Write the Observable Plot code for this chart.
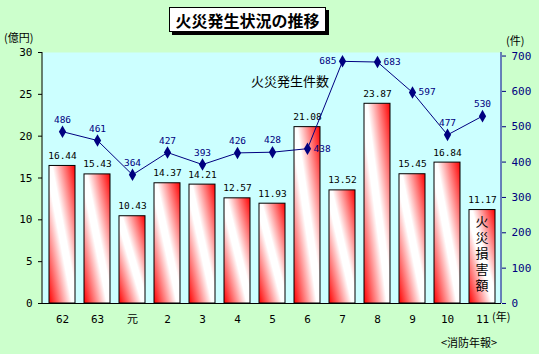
<!DOCTYPE html>
<html><head><meta charset="utf-8">
<script src="https://cdn.jsdelivr.net/npm/d3@7"></script>
<script src="https://cdn.jsdelivr.net/npm/@observablehq/plot@0.6"></script>
<style>
html,body{margin:0;padding:0;background:#ccffcc;}
#c{position:relative;width:539px;height:354px;}
</style></head><body><div id="c"></div>
<script>
// ---- data ----
const years = ["62","63","元","2","3","4","5","6","7","8","9","10","11"];
const damage = [16.44,15.43,10.43,14.37,14.21,12.57,11.93,21.08,13.52,23.87,15.45,16.84,11.17];
const fires = [486,461,364,427,393,426,428,438,685,683,597,477,530];
const leftTicks = [0,5,10,15,20,25,30];
const rightTicks = [0,100,200,300,400,500,600,700];
const legendLabel = "火災損害額";

// ---- build ----
const data = years.map((yr,i)=>({year: yr, damage: damage[i], fires: fires[i], i}));
const rightMax = 710;
const k = 30 / rightMax;
const NUM = "'DejaVu Sans Mono', 'Noto Sans CJK JP', monospace";
const JP = "'Noto Sans CJK JP', sans-serif";
const NAVY = "#000080";
const labelSide = {"438":"right","685":"left","683":"right","597":"right"};
const side = d => labelSide[String(d.fires)] || "top";

const defs = () => {
  const g = d3.create("svg:defs");
  const lg = g.append("linearGradient").attr("id","barGrad")
    .attr("x1",0).attr("y1",1).attr("x2",1).attr("y2",0);
  lg.append("stop").attr("offset",0).attr("stop-color","#ff0000");
  lg.append("stop").attr("offset",0.44).attr("stop-color","#ffffff");
  lg.append("stop").attr("offset",0.56).attr("stop-color","#ffffff");
  lg.append("stop").attr("offset",1).attr("stop-color","#ff0000");
  return g.node();
};

const plot = Plot.plot({
  width: 539, height: 354,
  marginTop: 52, marginBottom: 51, marginLeft: 42, marginRight: 38,
  style: {background: "transparent", overflow: "visible"},
  x: {type: "band", domain: years, paddingInner: 0.26, paddingOuter: 0.13, axis: null},
  y: {domain: [0, 30], axis: null},
  marks: [
    defs,
    Plot.frame({fill: "#ccffff", stroke: "none"}),
    Plot.barY(data, {x: "year", y: "damage", fill: "url(#barGrad)", stroke: "black", strokeWidth: 1}),
    Plot.text(data, {x: "year", y: "damage", text: d => d.damage.toFixed(2), dy: -10,
      fontFamily: NUM, fontSize: 9.5, fill: "black"}),
    Plot.line(data, {x: "year", y: d => d.fires * k, stroke: NAVY, strokeWidth: 1}),
    Plot.dot(data, {x: "year", y: d => d.fires * k, symbol: "diamond", r: 3.8, fill: NAVY, stroke: "none"}),
    Plot.text(data.filter(d => side(d) === "top"), {x: "year", y: d => d.fires * k, text: d => String(d.fires),
      dy: -12, fontFamily: NUM, fontSize: 9.5, fill: NAVY}),
    Plot.text(data.filter(d => side(d) === "right"), {x: "year", y: d => d.fires * k, text: d => String(d.fires),
      dx: 6, textAnchor: "start", fontFamily: NUM, fontSize: 9.5, fill: NAVY}),
    Plot.text(data.filter(d => side(d) === "left"), {x: "year", y: d => d.fires * k, text: d => String(d.fires),
      dx: -6, textAnchor: "end", fontFamily: NUM, fontSize: 9.5, fill: NAVY}),
    Plot.axisY(leftTicks, {anchor: "left", label: null, tickSize: 4, tickPadding: 6, fontSize: 11,
      fontFamily: NUM, stroke: "black", fill: "black"}),
    Plot.axisY(rightTicks.map(v => v * k), {anchor: "right", label: null, tickSize: 4, tickPadding: 6, fontSize: 11,
      fontFamily: NUM, stroke: NAVY, fill: NAVY, tickFormat: v => String(Math.round(v / k))}),
    Plot.axisX({anchor: "bottom", label: null, tickSize: 0, tickPadding: 12, fontSize: 11, fontFamily: NUM, fill: "black"}),
    Plot.ruleY([0], {stroke: "black"})
  ]
});

const svg = d3.select(plot);
svg.style("font-family", JP);
// axis lines
const xs = plot.scale("x").range, ys = plot.scale("y").range;
svg.append("line").attr("x1", xs[0]).attr("x2", xs[0]).attr("y1", ys[0]).attr("y2", ys[1]).attr("stroke", "black");
svg.append("line").attr("x1", xs[1]).attr("x2", xs[1]).attr("y1", ys[0]).attr("y2", ys[1]).attr("stroke", NAVY);

// title box
svg.append("rect").attr("x", 172).attr("y", 10).attr("width", 157).attr("height", 25).attr("fill", "black");
svg.append("rect").attr("x", 169.5).attr("y", 7.5).attr("width", 156).attr("height", 24)
  .attr("fill", "white").attr("stroke", "black");
svg.append("text").attr("x", 247.5).attr("y", 19.5).attr("text-anchor", "middle").attr("dominant-baseline", "central")
  .attr("font-size", 16).attr("font-weight", "bold").attr("font-family", JP).text("火災発生状況の推移");

const txt = (x, y, s, size, anchor, fill) => svg.append("text").attr("x", x).attr("y", y)
  .attr("text-anchor", anchor || "start").attr("dominant-baseline", "central")
  .attr("font-size", size).attr("font-family", JP).attr("fill", fill || "black").text(s);

txt(4, 37, "(億円)", 11);
txt(506, 40, "(件)", 11);
txt(492, 316, "(年)", 11);
txt(441, 342, "<消防年報>", 11);
txt(290, 80, "火災発生件数", 13, "middle");

// vertical legend label in last bar (vertical writing mode, centred on its column)
const lx = plot.scale("x").apply(years[years.length - 1]) + plot.scale("x").bandwidth / 2;
svg.append("text").attr("x", lx).attr("y", 255).attr("text-anchor", "middle")
  .style("writing-mode", "vertical-rl").attr("letter-spacing", 3)
  .attr("font-size", 13).attr("font-family", JP).attr("fill", "black").text(legendLabel);

document.getElementById("c").appendChild(plot);
</script></body></html>
